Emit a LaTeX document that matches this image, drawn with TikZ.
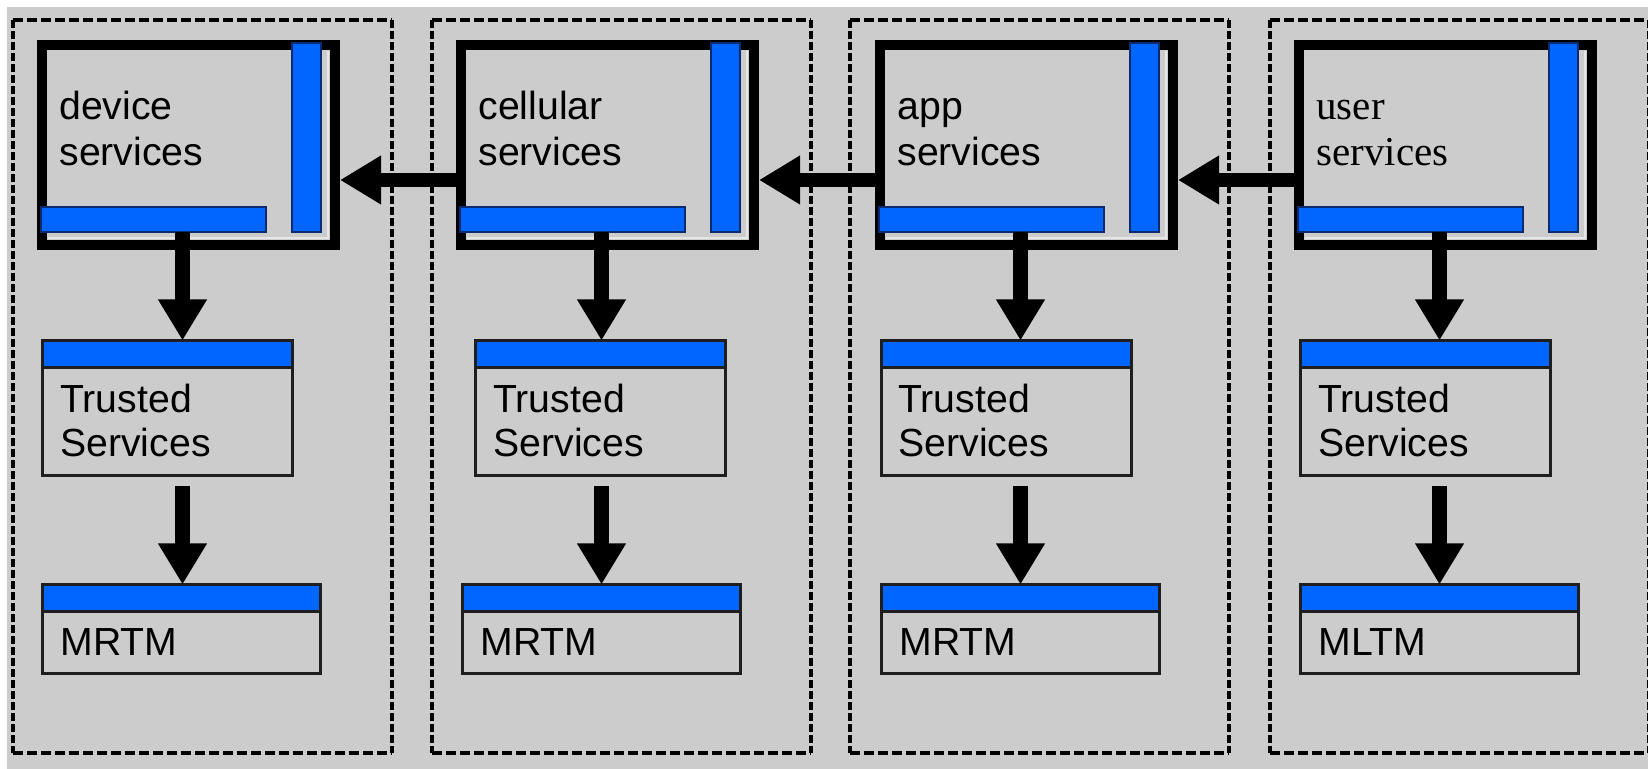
\documentclass[tikz,border=0pt]{standalone}
\usepackage{fontspec}
\setmainfont{Liberation Sans}
\newfontfamily\timesfont{Liberation Serif}
\usetikzlibrary{arrows.meta,calc}
\definecolor{bggray}{HTML}{CCCCCC}
\definecolor{barblue}{HTML}{0066FF}
\definecolor{edge}{HTML}{1E1E1E}
\definecolor{baredge}{HTML}{0A2C6E}
\definecolor{hilite}{HTML}{E6E6E6}
\tikzset{
  mainbox/.style={draw=black, line width=5pt, minimum width=146.5pt, minimum height=100pt, inner sep=0pt},
  barbox/.style={fill=barblue, draw=baredge, line width=0.6pt, inner sep=0pt, outer sep=0pt},
  tbox/.style={draw=edge, line width=1.5pt, minimum width=125pt, minimum height=67.5pt, inner sep=0pt, outer sep=0pt},
  rbox/.style={draw=edge, line width=1.5pt, minimum width=139pt, minimum height=44.5pt, inner sep=0pt, outer sep=0pt},
  hdr/.style={fill=barblue, draw=edge, line width=1.5pt},
  hiline/.style={draw=hilite, line width=1pt},
  mlabel/.style={anchor=base west, inner sep=0pt, align=left, font=\fontsize{19.6pt}{23pt}\selectfont},
  tlabel/.style={anchor=base west, inner sep=0pt, align=left, font=\fontsize{19.6pt}{22pt}\selectfont},
  flow/.style={line width=7.25pt, -{Triangle[length=20.5pt,width=23pt]}},
  dashh/.style={line width=2pt, dash pattern=on 5pt off 2pt},
  dashv/.style={line width=2.1pt, dash pattern=on 4pt off 1.5pt},
}
\begin{document}
\begin{tikzpicture}[x=0.5pt,y=-0.5pt]
\useasboundingbox (0,0) rectangle (1648,769);
\clip (0,0) rectangle (1648,769);
\fill[white] (0,0) rectangle (1648,769);
\fill[bggray] (7,7) rectangle (1648,769);

% dashed column frames
\foreach \d in {13,432,850,1270}{
  \draw[dashh] (\d,20) -- (\d+379,20);
  \draw[dashh] (\d,753) -- (\d+379,753);
  \draw[dashv] (\d,20) -- (\d,753);
  \draw[dashv] (\d+379,20) -- (\d+379,753);
}

% main service boxes
\node[mainbox] (m1) at (188.5,145.5) {};
\node[mainbox] (m2) at (607.5,145.5) {};
\node[mainbox] (m3) at (1026.5,145.5) {};
\node[mainbox] (m4) at (1445.5,145.5) {};

\foreach \L/\i in {37/1,456/2,875/3,1294/4}{
  \draw[hiline] (\L+291,51) -- (\L+291,238.5) -- (\L+11,238.5);
  \node[barbox, minimum width=112.5pt, minimum height=12.5pt] (h\i) at (\L+116.5,219.5) {};
  \node[barbox, minimum width=14.5pt, minimum height=94.5pt] (v\i) at (\L+269.5,137.5) {};
  \coordinate (ax\i) at (\L+145.5,0);
}

\node[mlabel] (l1) at (59,166) {device\\services};
\node[mlabel] (l2) at (478,166) {cellular\\services};
\node[mlabel] (l3) at (897,166) {app\\services};
\node[mlabel, font=\timesfont\fontsize{20.5pt}{23pt}\selectfont] (l4) at (1316,166) {user\\services};

% trusted services boxes
\node[tbox] (t1) at (167.5,408) {};
\node[tbox] (t2) at (600.5,408) {};
\node[tbox] (t3) at (1006,408) {};
\node[tbox] (t4) at (1425.5,408) {};
\foreach \i in {1,2,3,4}{
  \draw[hdr] (t\i.north west) rectangle ($(t\i.north east)+(0,27)$);
}
\node[tlabel] (tl1) at (60,457) {Trusted\\Services};
\node[tlabel] (tl2) at (493,457) {Trusted\\Services};
\node[tlabel] (tl3) at (898,457) {Trusted\\Services};
\node[tlabel] (tl4) at (1318,457) {Trusted\\Services};

% measurement boxes
\node[rbox] (r1) at (181.5,629) {};
\node[rbox] (r2) at (601.5,629) {};
\node[rbox] (r3) at (1020,629) {};
\node[rbox] (r4) at (1439.5,629) {};
\foreach \i in {1,2,3,4}{
  \draw[hdr] (r\i.north west) rectangle ($(r\i.north east)+(0,27)$);
}
\node[tlabel] (rl1) at (60,655) {MRTM};
\node[tlabel] (rl2) at (480,655) {MRTM};
\node[tlabel] (rl3) at (899,655) {MRTM};
\node[tlabel] (rl4) at (1318,655) {MLTM};

% connectors
\foreach \i in {1,2,3,4}{
  \draw[flow] (h\i.south -| ax\i) -- (t\i.north -| ax\i);
  \draw[flow, shorten <=5.5pt] (t\i.south -| ax\i) -- (r\i.north -| ax\i);
}
\draw[flow] ($(m2.west)+(0,34.5)$) -- ($(m1.east)+(0,34.5)$);
\draw[flow] ($(m3.west)+(0,34.5)$) -- ($(m2.east)+(0,34.5)$);
\draw[flow] ($(m4.west)+(0,34.5)$) -- ($(m3.east)+(0,34.5)$);
\end{tikzpicture}
\end{document}
